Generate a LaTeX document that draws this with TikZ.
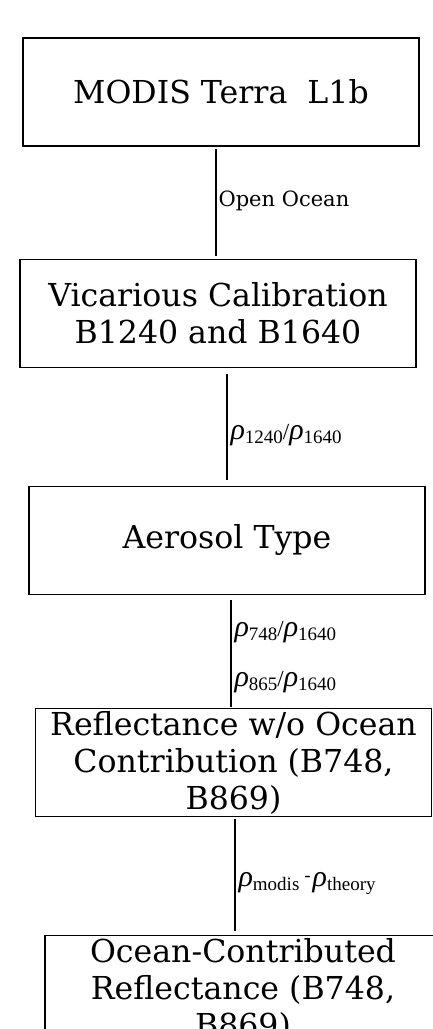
\documentclass[tikz,border=0pt]{standalone}
\usepackage{fontspec}
\setmainfont{DejaVu Serif}
\newfontfamily\subfont{Liberation Serif}
\usetikzlibrary{positioning}
\newcommand{\rhosub}[1]{{\subfont\fontsize{30}{32}\selectfont\itshape ρ}\raisebox{-4pt}{\subfont\fontsize{19}{19}\selectfont #1}}
\newcommand{\rslash}{{\subfont\fontsize{23}{23}\selectfont /}}

\begin{document}
\begin{tikzpicture}[box/.style={draw,line width=1.2pt,align=center,inner sep=0pt,minimum width=396pt,minimum height=108pt,font=\fontsize{31.6}{37}\selectfont}, lab/.style={right,inner sep=2pt,font=\fontsize{21}{25}\selectfont}, rholab/.style={lab,inner sep=3pt}, link/.style={line width=1.1pt}]
\useasboundingbox (0,0) rectangle (433pt,-1029pt);
\clip (0,0) rectangle (433pt,-1029pt);
\node[box] (modis) at (221pt,-92pt) {MODIS Terra~~L1b};
\node[box,below=112pt of modis,xshift=-3pt] (vical) {Vicarious Calibration\\B1240 and B1640};
\node[box,below=118pt of vical,xshift=9pt] (aero) {Aerosol Type};
\node[box,below=113pt of aero,xshift=6.5pt] (refl) {Reflectance w/o Ocean\\Contribution (B748,\\B869)};
\node[box,below=118pt of refl,xshift=9.5pt] (ocean) {Ocean-Contributed\\Reflectance (B748,\\B869)};
% connector ends, lines kept vertical
\coordinate (t1) at ([shift={(-5pt,-2pt)}]modis.south);
\coordinate (h1) at ([yshift=3pt]vical.north);
\coordinate (t2) at ([shift={(9pt,-6pt)}]vical.south);
\coordinate (h2) at ([yshift=6pt]aero.north);
\coordinate (t3) at ([shift={(4pt,-5pt)}]aero.south);
\coordinate (h3) at ([yshift=1pt]refl.north);
\coordinate (t4) at ([shift={(1.5pt,-2pt)}]refl.south);
\coordinate (h4) at ([yshift=4pt]ocean.north);
\draw[link] (t1) -- node[lab,pos=0.49]{Open Ocean} (t1 |- h1);
\draw[link] (t2) -- node[rholab,pos=0.58]{\rhosub{1240}\rslash\rhosub{1640}} (t2 |- h2);
\draw[link] (t3) -- node[rholab,pos=0.30]{\rhosub{748}\rslash\rhosub{1640}} node[rholab,pos=0.77]{\rhosub{865}\rslash\rhosub{1640}} (t3 |- h3);
\draw[link] (t4) -- node[rholab,pos=0.57]{\rhosub{modis}\hspace{5pt}\raisebox{5pt}{\subfont\fontsize{19}{19}\selectfont -}\hspace{2pt}\rhosub{theory}} (t4 |- h4);
\end{tikzpicture}
\end{document}
